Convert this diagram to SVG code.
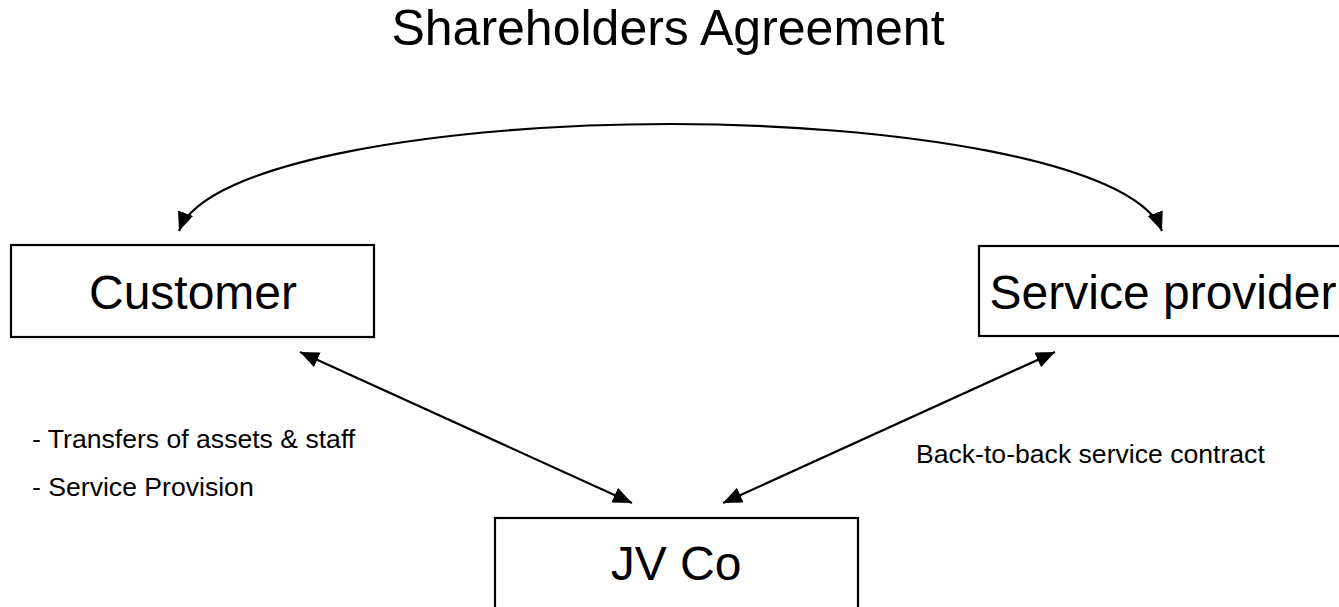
<svg xmlns="http://www.w3.org/2000/svg" width="1339" height="607" viewBox="0 0 1339 607">
<style>
text{font-family:"Liberation Sans",Arial,Helvetica,sans-serif;fill:#000}
.box{fill:#fff;stroke:#000;stroke-width:2.2}
.big{font-size:48px;text-anchor:middle}
.lbl{font-size:26.6px}
.conn{fill:none;stroke:#000;stroke-width:2.2}
</style>
<defs>
<marker id="ah" markerUnits="userSpaceOnUse" markerWidth="22" markerHeight="18" refX="19" refY="8" orient="auto-start-reverse" viewBox="0 0 22 18">
<path d="M0,0 L19,8 L0,16 z" fill="#000"/>
</marker>
</defs>
<rect width="1339" height="607" fill="#fff"/>
<text id="title" x="668" y="45" style="font-size:50px;text-anchor:middle">Shareholders Agreement</text>
<g id="customer">
<rect class="box" x="11" y="245" width="363" height="92"/>
<text class="big" x="193" y="309">Customer</text>
</g>
<g id="service-provider">
<rect class="box" x="979" y="246" width="380" height="90"/>
<text class="big" x="1163" y="309">Service provider</text>
</g>
<g id="jvco">
<rect class="box" x="495" y="518" width="363" height="120"/>
<text class="big" x="676" y="580">JV Co</text>
</g>
<g id="connectors">
<path class="conn" d="M179,231 C205,160 450,124 670,124 C890,124 1135,160 1162,231" marker-start="url(#ah)" marker-end="url(#ah)"/>
<path class="conn" d="M300,352 L632,503" marker-start="url(#ah)" marker-end="url(#ah)"/>
<path class="conn" d="M1055,352 L723,503" marker-start="url(#ah)" marker-end="url(#ah)"/>
</g>
<g id="labels">
<text class="lbl" x="32" y="448">- Transfers of assets &amp; staff</text>
<text class="lbl" x="32" y="496">- Service Provision</text>
<text class="lbl" x="916" y="463">Back-to-back service contract</text>
</g>
</svg>
